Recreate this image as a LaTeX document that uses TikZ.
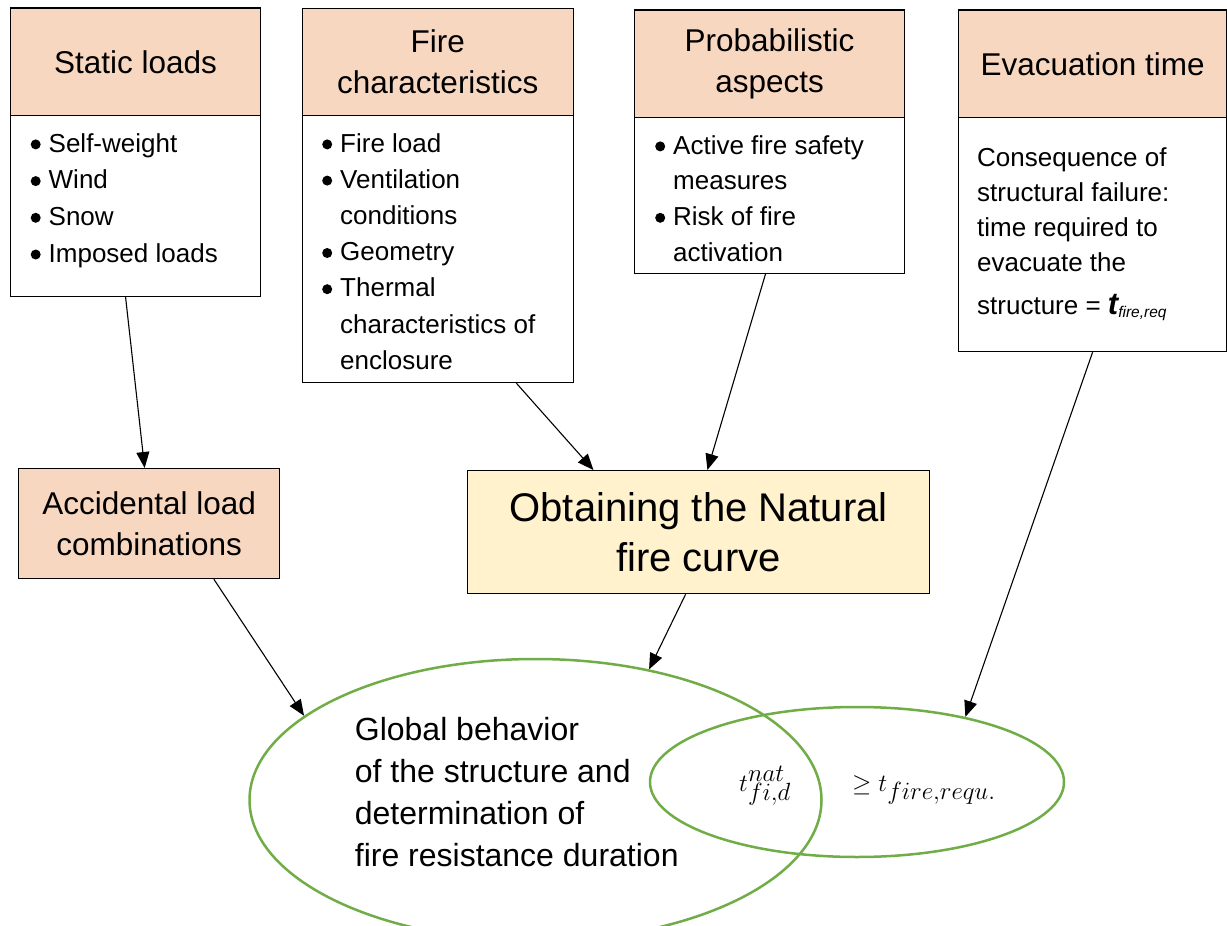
\documentclass[tikz,border=0pt]{standalone}
\usepackage{fontspec}
\setmainfont{Liberation Sans}
\usetikzlibrary{arrows.meta,calc,shapes.geometric}
\definecolor{peach}{HTML}{F8D7C0}
\definecolor{lightyellow}{HTML}{FFF2CC}
\definecolor{leaf}{HTML}{70AD47}
\newcommand\bul{\makebox[26pt][c]{\tikz[baseline=0pt]\fill (0pt,7.6pt) circle[radius=5pt];}}
\newcommand\ind{\makebox[26pt]{}}
\tikzset{
  titlebox/.style={draw=black, line width=1.2pt, fill=peach, anchor=north west,
    inner sep=0pt, align=center, font=\fontsize{31.5}{41}\selectfont},
  bodybox/.style={draw=black, line width=1.2pt, fill=white, anchor=north west, inner sep=0pt},
  listtext/.style={anchor=base west, inner sep=0pt},
  conn/.style={line width=1.1pt, -{Triangle[length=16pt,width=13pt]}},
  zone/.style={draw=leaf, line width=2.5pt, ellipse, inner sep=0pt},
}
\begin{document}
\begin{tikzpicture}[x=1pt,y=-1pt]
\useasboundingbox (0,0) rectangle (1227,926);

% Static loads
\node[titlebox, minimum width=250pt, minimum height=107.7pt] (st) at (10,7.3) {Static loads};
\node[bodybox, minimum width=250pt, minimum height=180.7pt] (sb) at (10,115) {};
\node[listtext, font=\fontsize{26}{36.7}\selectfont] (sl) at (22.5,152)
  {\begin{tabular}[t]{@{}l@{}}\bul Self-weight\\ \bul Wind\\ \bul Snow\\ \bul Imposed loads\end{tabular}};

% Fire characteristics
\node[titlebox, minimum width=270.5pt, minimum height=107pt] (ft) at (302,8) {Fire\\characteristics};
\node[bodybox, minimum width=270.5pt, minimum height=267pt] (fb) at (302,115) {};
\node[listtext, font=\fontsize{26}{36.2}\selectfont] (fl) at (314,152)
  {\begin{tabular}[t]{@{}l@{}}\bul Fire load\\ \bul Ventilation\\ \ind conditions\\ \bul Geometry\\ \bul Thermal\\ \ind characteristics of\\ \ind enclosure\end{tabular}};

% Probabilistic aspects
\node[titlebox, minimum width=270pt, minimum height=107.4pt] (pt) at (634,9.3) {Probabilistic\\aspects};
\node[bodybox, minimum width=270pt, minimum height=156pt] (pb) at (634,116.7) {};
\node[listtext, font=\fontsize{26}{35.7}\selectfont] (pl) at (647,154)
  {\begin{tabular}[t]{@{}l@{}}\bul Active fire safety\\ \ind measures\\ \bul Risk of fire\\ \ind activation\end{tabular}};

% Evacuation time
\node[titlebox, minimum width=268pt, minimum height=107.7pt] (et) at (958,9.3) {Evacuation time};
\node[bodybox, minimum width=268pt, minimum height=234pt] (eb) at (958,117) {};
\node[listtext, font=\fontsize{26}{35}\selectfont] (el) at (977,166)
  {\begin{tabular}[t]{@{}l@{}}Consequence of\\ structural failure:\\ time required to\\ evacuate the\\[8pt]
   structure = {\fontsize{31}{31}\selectfont\bfseries\itshape t}\raisebox{-3pt}{\fontsize{15.5}{16}\selectfont\itshape fire,req}\end{tabular}};

% Accidental load combinations
\node[titlebox, minimum width=261pt, minimum height=110pt] (ac) at (18,468) {Accidental load\\combinations};

% Natural fire curve
\node[titlebox, fill=lightyellow, minimum width=462pt, minimum height=123pt,
  font=\fontsize{40}{50}\selectfont] (nf) at (467,470) {Obtaining the Natural\\fire curve};

% Ellipses
\node[zone, minimum width=572pt, minimum height=282pt] (big) at (535.5,800) {};
\node[zone, minimum width=414pt, minimum height=150pt] (small) at (857,782) {};

\node[listtext, font=\fontsize{32}{42}\selectfont] (gt) at (354.7,740)
  {\begin{tabular}[t]{@{}l@{}}Global behavior\\ of the structure and\\ determination of\\ fire resistance duration\end{tabular}};
\node[listtext, font=\fontsize{37}{37}\selectfont] (tnat) at (739,791) {$t^{nat}_{fi,d}$};
\node[listtext, font=\fontsize{37}{37}\selectfont] (treq) at (852,791) {$\geq t_{fire,requ.}$};

% Connectors
\draw[conn] ($(sb.south west)!0.46!(sb.south east)$) -- ($(ac.north west)!0.483!(ac.north east)$);
\draw[conn] ($(fb.south west)!0.789!(fb.south east)$) -- ($(nf.north west)!0.273!(nf.north east)$);
\draw[conn] ($(pb.south west)!0.485!(pb.south east)$) -- ($(nf.north west)!0.519!(nf.north east)$);
\draw[conn] (eb.south) -- (small.31.8);
\draw[conn] ($(ac.south west)!0.747!(ac.south east)$) -- (big.160.9);
\draw[conn] ($(nf.south west)!0.472!(nf.south east)$) -- (big.49.5);
\end{tikzpicture}
\end{document}
